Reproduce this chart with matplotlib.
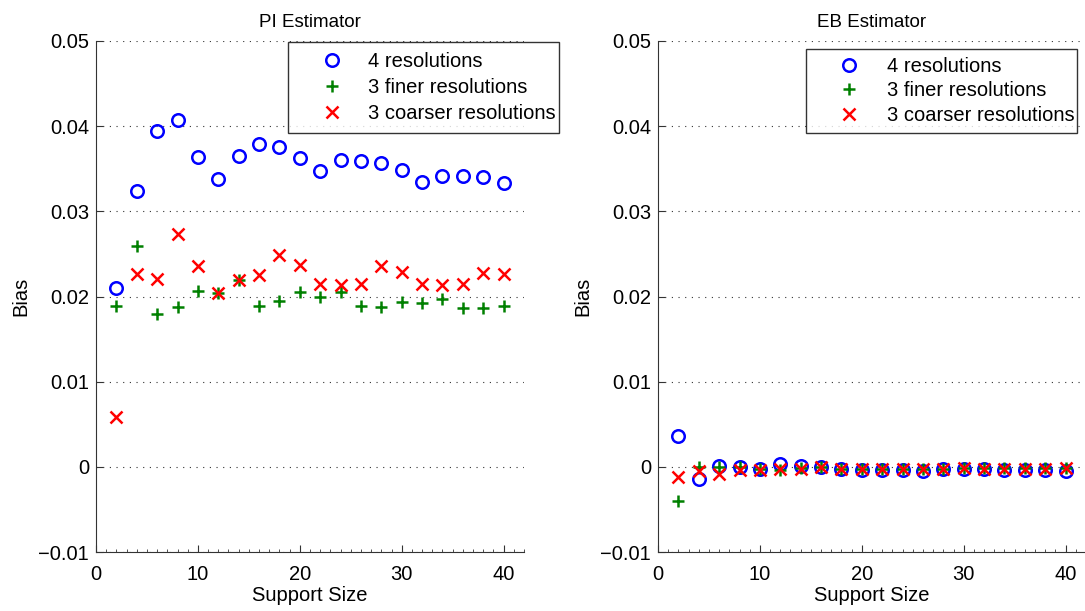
import numpy as np
import matplotlib
matplotlib.use('Agg')
import matplotlib.pyplot as plt
from matplotlib.ticker import MultipleLocator

plt.rcParams['font.family'] = ['Liberation Sans', 'DejaVu Sans']

support = [2, 4, 6, 8, 10, 12, 14, 16, 18, 20, 22, 24, 26, 28, 30, 32, 34, 36, 38, 40]

# PI estimator bias
pi_4res = [0.0210, 0.0324, 0.0394, 0.0407, 0.0364, 0.0338, 0.0365, 0.0379, 0.0375, 0.0363,
           0.0347, 0.0360, 0.0359, 0.0357, 0.0348, 0.0334, 0.0341, 0.0342, 0.0340, 0.0333]
pi_finer = [0.0189, 0.0259, 0.0180, 0.0188, 0.0207, 0.0204, 0.0219, 0.0189, 0.0195, 0.0205,
            0.0199, 0.0205, 0.0189, 0.0188, 0.0194, 0.0192, 0.0197, 0.0186, 0.0186, 0.0189]
pi_coarser = [0.0059, 0.0226, 0.0221, 0.0273, 0.0236, 0.0204, 0.0219, 0.0225, 0.0249, 0.0237,
              0.0215, 0.0213, 0.0215, 0.0236, 0.0229, 0.0215, 0.0213, 0.0215, 0.0228, 0.0227]

# EB estimator bias
eb_4res = [0.0036, -0.0014, 0.0001, 0.0000, -0.0002, 0.0003, 0.0001, 0.0000, -0.0002, -0.0004,
           -0.0004, -0.0004, -0.0005, -0.0003, -0.0002, -0.0003, -0.0004, -0.0004, -0.0004, -0.0005]
eb_finer = [-0.0040, 0.0000, 0.0000, 0.0000, -0.0003, -0.0004, -0.0001, 0.0000, -0.0002, -0.0002,
            -0.0002, -0.0002, -0.0002, -0.0002, -0.0001, -0.0001, -0.0001, -0.0001, -0.0001, -0.0001]
eb_coarser = [-0.0012, -0.0005, -0.0008, -0.0004, -0.0004, -0.0003, -0.0002, 0.0000, -0.0002, -0.0002,
              -0.0002, -0.0002, -0.0002, -0.0002, -0.0001, -0.0002, -0.0002, -0.0002, -0.0002, -0.0001]

labels = ['4 resolutions', '3 finer resolutions', '3 coarser resolutions']
titles = ['PI Estimator', 'EB Estimator']

W, H = 1085., 611.
fig = plt.figure(figsize=(10.85, 6.11), dpi=100)
ax1 = fig.add_axes([96 / W, 59 / H, 428 / W, 511 / H])
ax2 = fig.add_axes([658 / W, 59 / H, 428 / W, 511 / H])

# legend boxes (left, top) in pixels, row spacing, border padding, handle length
leg_pos = [(288, 42, 0.36, 0.48, 3.40), (806, 49, 0.28, 0.38, 3.52)]

for ax, title, (a, b, c), lp in zip([ax1, ax2], titles,
                                    [(pi_4res, pi_finer, pi_coarser), (eb_4res, eb_finer, eb_coarser)],
                                    leg_pos):
    ax.plot(support, a, 'o', ls='none', mfc='none', mec='#0000ff', mew=1.8, ms=9, label=labels[0])
    ax.plot(support, b, '+', ls='none', color='#008000', mew=1.8, ms=9, label=labels[1])
    ax.plot(support, c, 'x', ls='none', color='#ff0000', mew=1.8, ms=8, label=labels[2])
    ax.set_xlim(0, 42)
    ax.set_ylim(-0.01, 0.05)
    ax.set_yticks([-0.01, 0, 0.01, 0.02, 0.03, 0.04, 0.05])
    ax.set_yticklabels(['\u22120.01', '0', '0.01', '0.02', '0.03', '0.04', '0.05'])
    ax.set_xticks([0, 10, 20, 30, 40])
    ax.xaxis.set_minor_locator(MultipleLocator(1))
    ax.tick_params(direction='in', length=5, width=0.8, labelsize=14.5, colors='#333333',
                   labelcolor='black')
    ax.tick_params(axis='x', pad=9)
    ax.tick_params(axis='y', pad=5)
    ax.tick_params(which='minor', direction='in', length=2.5, width=0.6, colors='#333333')
    ax.spines['top'].set_visible(False)
    ax.spines['right'].set_visible(False)
    ax.spines['left'].set_color('#333333')
    ax.spines['bottom'].set_color('#333333')
    ax.yaxis.grid(True, ls=(0, (1, 5)), color='#333333', lw=0.8)
    ax.set_axisbelow(True)
    ax.set_title(title, fontsize=13.5, pad=10)
    ax.set_xlabel('Support Size', fontsize=14.5, labelpad=2)
    ax.set_ylabel('Bias', fontsize=14.5, labelpad=5.5)
    leg = ax.legend(loc='upper left', fontsize=14.5, frameon=True, fancybox=False,
                    edgecolor='black', handletextpad=0.1, borderpad=lp[3],
                    labelspacing=lp[2], handlelength=lp[4], borderaxespad=0,
                    bbox_to_anchor=(lp[0] / W, 1 - lp[1] / H - 0.01, 271 / W, 0.01),
                    bbox_transform=fig.transFigure, mode='expand')
    leg.get_frame().set_linewidth(1.0)

fig.savefig('out.png', dpi=100)
